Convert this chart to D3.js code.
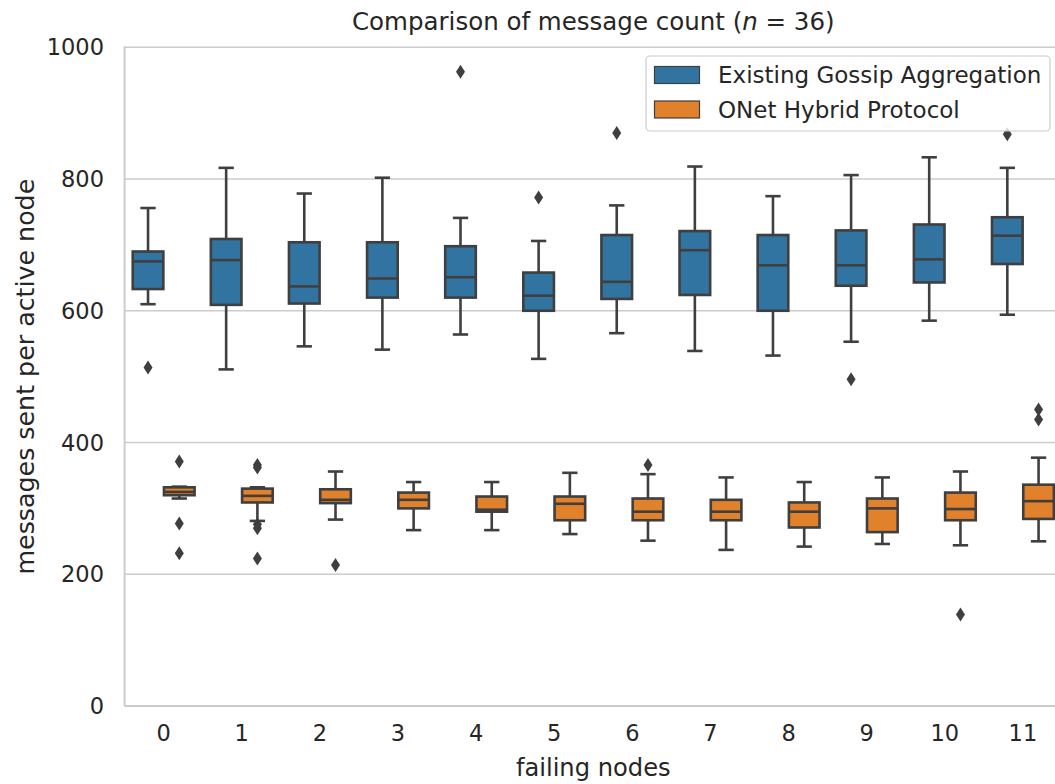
<!DOCTYPE html>
<html>
<head>
<meta charset="utf-8">
<script src="https://cdn.jsdelivr.net/npm/d3@7"></script>
<style>
  html, body { margin: 0; padding: 0; background: #ffffff; }
  svg { display: block; font-family: "DejaVu Sans", sans-serif; }
</style>
</head>
<body>
<svg id="chart" width="1055" height="784"></svg>
<script>
// Failing-node counts on the x axis
const failingNodes = [0, 1, 2, 3, 4, 5, 6, 7, 8, 9, 10, 11];
const seriesNames = ["Existing Gossip Aggregation", "ONet Hybrid Protocol"];
const yTicks = [0, 200, 400, 600, 800, 1000];

// Existing Gossip Aggregation: box statistics per failing-node count
const gossipLow    = [610, 511, 546, 541, 564, 527, 566, 539, 532, 553, 585, 594];
const gossipQ1     = [633, 609, 611, 620, 620, 600, 618, 624, 600, 638, 643, 671];
const gossipMedian = [675, 677, 637, 649, 651, 623, 644, 692, 669, 669, 678, 714];
const gossipQ3     = [690, 709, 704, 704, 698, 658, 715, 721, 715, 722, 731, 742];
const gossipHigh   = [756, 817, 778, 802, 741, 706, 760, 819, 774, 806, 833, 817];
const gossipOutliers = [[514], [], [], [], [963], [772], [870], [], [], [496], [], [868]];

// ONet Hybrid Protocol: box statistics per failing-node count
const onetLow    = [315, 281, 283, 267, 267, 261, 251, 237, 242, 246, 244, 250];
const onetQ1     = [320, 309, 308, 300, 295, 282, 282, 282, 271, 264, 282, 284];
const onetMedian = [325, 319, 313, 313, 298, 307, 295, 295, 295, 300, 299, 311];
const onetQ3     = [332, 330, 329, 324, 318, 318, 315, 313, 309, 315, 324, 336];
const onetHigh   = [333, 332, 356, 340, 340, 354, 352, 347, 340, 347, 356, 377];
const onetOutliers = [[371, 277, 232], [366, 362, 276, 270, 224], [214], [], [], [], [366], [], [], [], [139], [450, 435]];

const colors = ["#3274a1", "#e1812c"];
const lineColor = "#3f3f3f";
const textColor = "#262626";
const gridColor = "#cccccc";

function buildSeries(low, q1, med, q3, high, outl) {
  return failingNodes.map((k, i) => ({
    key: k, low: low[i], q1: q1[i], med: med[i], q3: q3[i], high: high[i], outliers: outl[i]
  }));
}
const series = [
  buildSeries(gossipLow, gossipQ1, gossipMedian, gossipQ3, gossipHigh, gossipOutliers),
  buildSeries(onetLow, onetQ1, onetMedian, onetQ3, onetHigh, onetOutliers)
];

const svg = d3.select("#chart");
const plot = { left: 124.6, right: 1062, top: 47.3, bottom: 706 };

const x = d3.scaleBand().domain(failingNodes).range([plot.left, plot.right]).paddingInner(0).paddingOuter(0);
const y = d3.scaleLinear().domain([0, 1000]).range([plot.bottom, plot.top]);
const hue = d3.scaleBand().domain([0, 1]).range([-0.4 * x.bandwidth(), 0.4 * x.bandwidth()]);
const boxW = hue.bandwidth() * 0.98;

// Horizontal grid lines
svg.append("g").selectAll("line").data(yTicks).join("line")
  .attr("x1", plot.left).attr("x2", 1055)
  .attr("y1", d => y(d)).attr("y2", d => y(d))
  .attr("stroke", gridColor).attr("stroke-width", 1.6);

// Left and bottom spines
svg.append("line").attr("x1", plot.left).attr("x2", plot.left)
  .attr("y1", plot.top - 1).attr("y2", plot.bottom)
  .attr("stroke", gridColor).attr("stroke-width", 2);
svg.append("line").attr("x1", plot.left).attr("x2", 1055)
  .attr("y1", plot.bottom).attr("y2", plot.bottom)
  .attr("stroke", gridColor).attr("stroke-width", 2);

// Y axis tick labels
svg.append("g").selectAll("text").data(yTicks).join("text")
  .attr("x", 104).attr("y", d => y(d)).attr("dy", "0.36em")
  .attr("text-anchor", "end").attr("fill", textColor).attr("font-size", 22.5)
  .text(d => d);

// X axis tick labels
svg.append("g").selectAll("text").data(failingNodes).join("text")
  .attr("x", d => x(d) + x.bandwidth() / 2).attr("y", 741)
  .attr("text-anchor", "middle").attr("fill", textColor).attr("font-size", 22.5)
  .text(d => d);

// Axis titles
svg.append("text").attr("x", (plot.left + plot.right) / 2).attr("y", 776)
  .attr("text-anchor", "middle").attr("fill", textColor).attr("font-size", 24.2)
  .text("failing nodes");
svg.append("text").attr("transform", `translate(34,${(plot.top + plot.bottom) / 2}) rotate(-90)`)
  .attr("text-anchor", "middle").attr("fill", textColor).attr("font-size", 25.3)
  .text("messages sent per active node");

// Chart title with italic n
const title = svg.append("text").attr("x", (plot.left + plot.right) / 2).attr("y", 30)
  .attr("text-anchor", "middle").attr("fill", textColor).attr("font-size", 24.5);
title.append("tspan").text("Comparison of message count (");
title.append("tspan").attr("font-style", "italic").text("n");
title.append("tspan").text(" = 36)");

// Box plots
const lw = 2.6;
series.forEach((data, s) => {
  const g = svg.append("g");
  const groups = g.selectAll("g").data(data).join("g")
    .attr("transform", d => `translate(${x(d.key) + x.bandwidth() / 2 + hue(s) + hue.bandwidth() / 2},0)`);

  // whiskers
  groups.append("line").attr("x1", 0).attr("x2", 0)
    .attr("y1", d => y(d.q3)).attr("y2", d => y(d.high))
    .attr("stroke", lineColor).attr("stroke-width", lw);
  groups.append("line").attr("x1", 0).attr("x2", 0)
    .attr("y1", d => y(d.q1)).attr("y2", d => y(d.low))
    .attr("stroke", lineColor).attr("stroke-width", lw);
  // caps
  groups.append("line").attr("x1", -boxW / 4).attr("x2", boxW / 4)
    .attr("y1", d => y(d.high)).attr("y2", d => y(d.high))
    .attr("stroke", lineColor).attr("stroke-width", lw);
  groups.append("line").attr("x1", -boxW / 4).attr("x2", boxW / 4)
    .attr("y1", d => y(d.low)).attr("y2", d => y(d.low))
    .attr("stroke", lineColor).attr("stroke-width", lw);
  // box
  groups.append("rect").attr("x", -boxW / 2).attr("width", boxW)
    .attr("y", d => y(d.q3)).attr("height", d => y(d.q1) - y(d.q3))
    .attr("fill", colors[s]).attr("stroke", lineColor).attr("stroke-width", lw);
  // median
  groups.append("line").attr("x1", -boxW / 2).attr("x2", boxW / 2)
    .attr("y1", d => y(d.med)).attr("y2", d => y(d.med))
    .attr("stroke", lineColor).attr("stroke-width", lw);
  // outliers as thin diamonds
  groups.selectAll("path").data(d => d.outliers).join("path")
    .attr("d", v => `M0,${y(v) - 7}L4.5,${y(v)}L0,${y(v) + 7}L-4.5,${y(v)}Z`)
    .attr("fill", lineColor);
});

// Legend
const legend = svg.append("g");
legend.append("rect").attr("x", 646).attr("y", 56).attr("width", 404).attr("height", 75)
  .attr("rx", 4).attr("fill", "#ffffff").attr("fill-opacity", 0.8)
  .attr("stroke", gridColor).attr("stroke-width", 1.2);
seriesNames.forEach((name, i) => {
  const cy = 75 + i * 34.5;
  legend.append("rect").attr("x", 654.5).attr("y", cy - 8.5).attr("width", 45).attr("height", 17)
    .attr("fill", colors[i]).attr("stroke", lineColor).attr("stroke-width", 1.2);
  legend.append("text").attr("x", 718).attr("y", cy).attr("dy", "0.36em")
    .attr("fill", textColor).attr("font-size", 23).text(name);
});
</script>
</body>
</html>
